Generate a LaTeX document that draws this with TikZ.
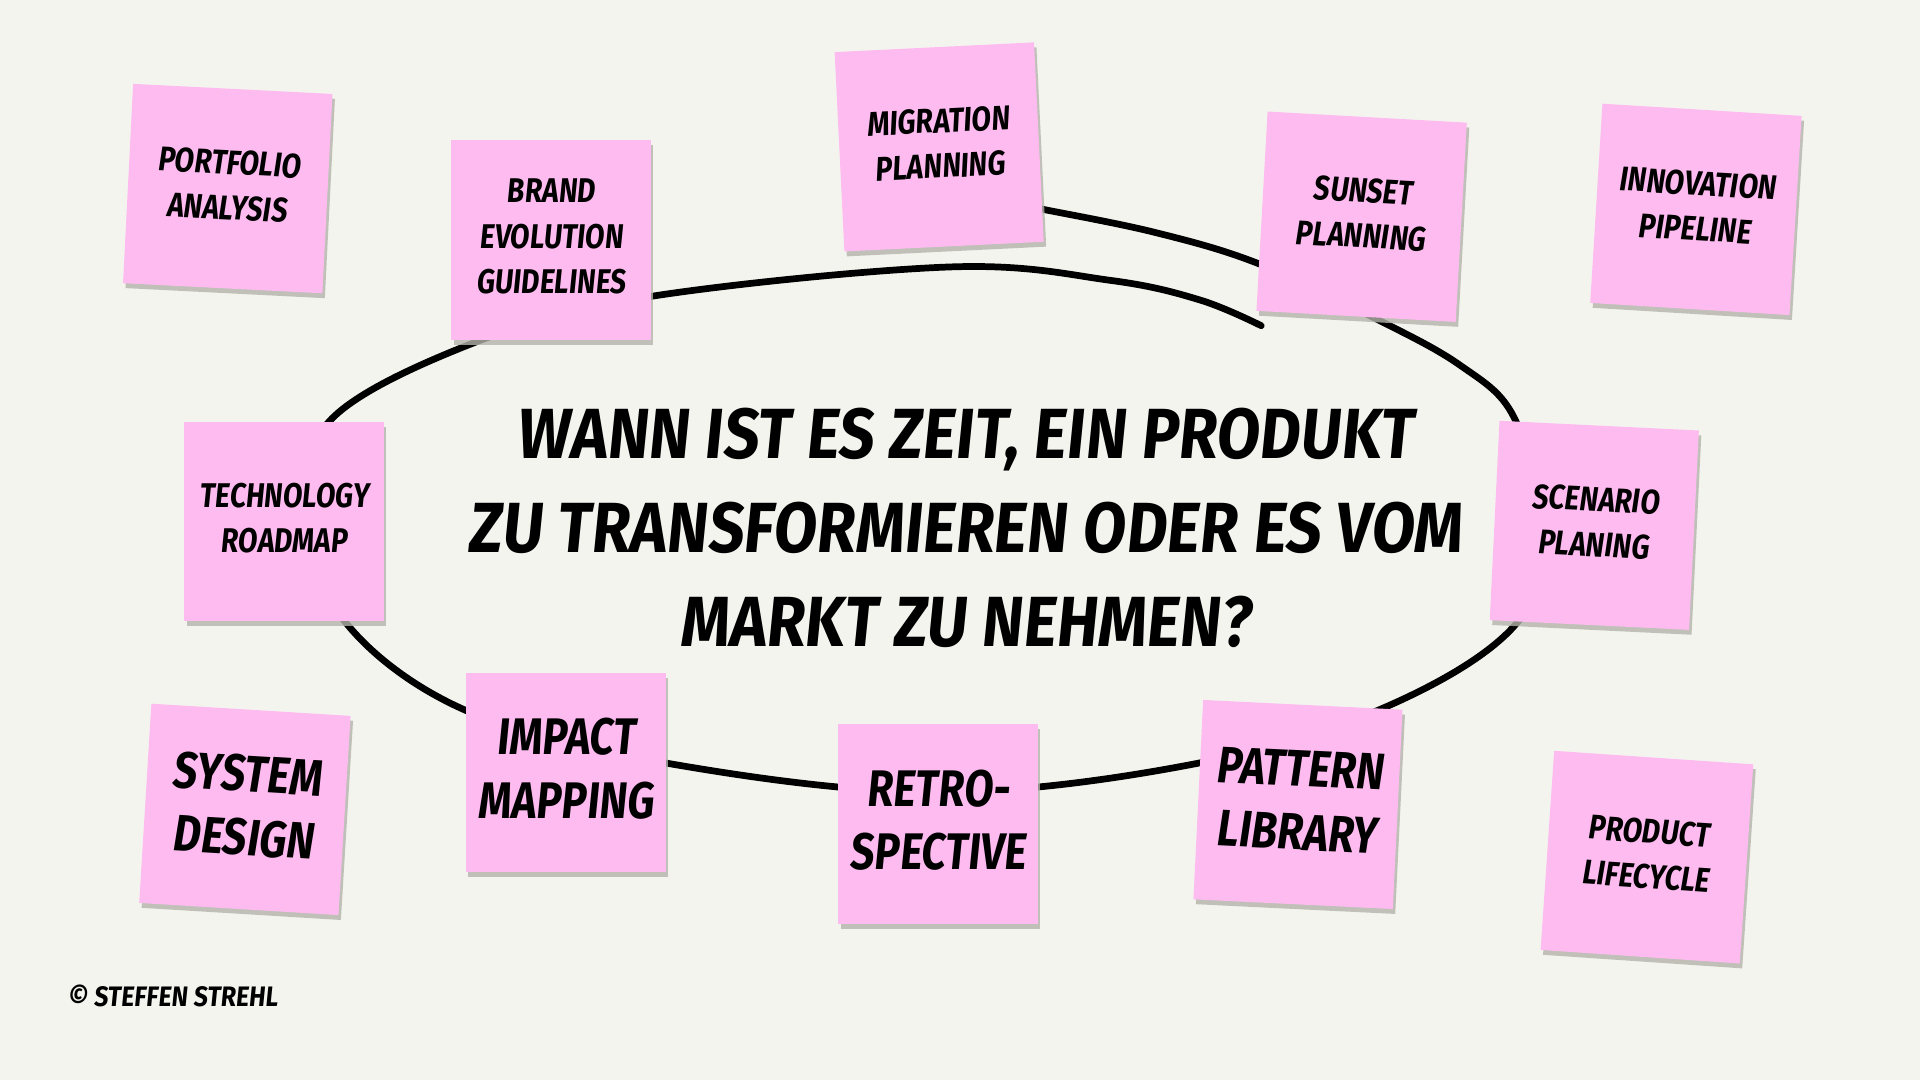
\documentclass[tikz,border=0pt]{standalone}
\usepackage{fontspec}
\newfontfamily\hand{Fira Sans}[FakeStretch=0.82,FakeSlant=0.1]
\newfontfamily\handwide{Fira Sans}[FakeStretch=0.88,FakeSlant=0.1]
\usetikzlibrary{shadows}
\definecolor{bgc}{HTML}{F4F4EF}
\definecolor{notepink}{HTML}{FDBBF0}
\definecolor{shadowc}{HTML}{B4B4AC}
\begin{document}
\begin{tikzpicture}[x=1pt,y=-1pt,
  note/.style={fill=notepink, minimum width=163pt, minimum height=163pt,
    inner sep=0pt, align=center, text depth=6pt,
    font=\hand\bfseries\fontsize{28}{37}\selectfont,
    drop shadow={shadow xshift=2pt, shadow yshift=-4pt, fill=shadowc, opacity=0.8}},
  bignote/.style={note, text depth=7pt, font=\hand\bfseries\fontsize{42}{52}\selectfont},
  spiral/.style={line width=5.5pt, line cap=round, line join=round, black}
]
\fill[bgc] (0,0) rectangle (1568,882);
\useasboundingbox (0,0) rectangle (1568,882);

% hand-drawn spiral ellipse
\draw[spiral] plot[smooth, tension=0.6] coordinates {
  (835,168) (852,171) (944,190) (1027,215) (1121,259) (1192,298) (1236,340)
  (1256,422) (1241,506) (1137,575) (980,623) (766,647) (543,623) (380,580)
  (282,508) (257,426) (269,344) (392,278) (532,242) (776,218) (907,229)
  (980,245) (1030,266)};

% sticky notes
\node[note, rotate=-2.9] (portfolio) at (186,154) {PORTFOLIO\\ANALYSIS};
\node[note] (brand) at (450,196) {BRAND\\EVOLUTION\\GUIDELINES};
\node[note, rotate=2.8] (migration) at (767,120) {MIGRATION\\PLANNING};
\node[note, rotate=-3.2] (sunset) at (1112,177) {SUNSET\\PLANNING};
\node[note, rotate=-3.5] (innovation) at (1385,171) {INNOVATION\\PIPELINE};
\node[note] (technology) at (232,426) {TECHNOLOGY\\ROADMAP};
\node[note, rotate=-2.8] (scenario) at (1302,429) {SCENARIO\\PLANING};
\node[bignote, rotate=-3.5] (system) at (200,661) {SYSTEM\\DESIGN};
\node[bignote] (impact) at (462,631) {IMPACT\\MAPPING};
\node[bignote] (retro) at (766,673) {RETRO-\\SPECTIVE};
\node[bignote, rotate=-2.8] (pattern) at (1060,657) {PATTERN\\LIBRARY};
\node[note, rotate=-3.9] (product) at (1345,700) {PRODUCT\\LIFECYCLE};

% central question
\node[align=center, font=\handwide\bfseries\fontsize{58}{77}\selectfont] (question) at (788,431)
  {WANN IST ES ZEIT, EIN PRODUKT\\ZU TRANSFORMIEREN ODER ES VOM\\MARKT ZU NEHMEN?};

% copyright
\node[anchor=west, inner sep=0pt, font=\handwide\bfseries\fontsize{23}{26}\selectfont] (copy) at (55,813)
  {© STEFFEN STREHL};
\end{tikzpicture}
\end{document}
